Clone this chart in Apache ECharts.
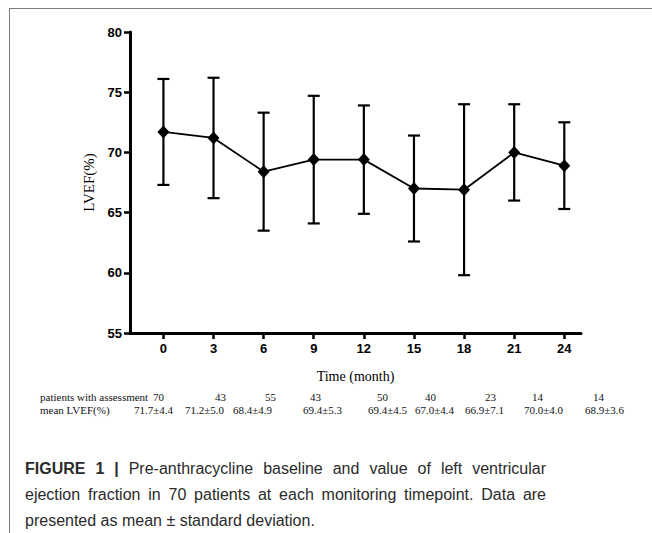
<!DOCTYPE html>
<html>
<head>
<meta charset="utf-8">
<script src="https://cdn.jsdelivr.net/npm/echarts@6/dist/echarts.min.js"></script>
<style>
html,body{margin:0;padding:0;background:#fff;}
#chart{width:652px;height:533px;}
</style>
</head>
<body>
<div id="chart"></div>
<script>
var months = [0, 3, 6, 9, 12, 15, 18, 21, 24];
var meanLVEF = [71.7, 71.2, 68.4, 69.4, 69.4, 67.0, 66.9, 70.0, 68.9];
var sdLVEF = [4.4, 5.0, 4.9, 5.3, 4.5, 4.4, 7.1, 4.0, 3.6];
var patientCounts = [70, 43, 55, 43, 50, 40, 23, 14, 14];
var meanLabels = ['71.7±4.4', '71.2±5.0', '68.4±4.9', '69.4±5.3', '69.4±4.5', '67.0±4.4', '66.9±7.1', '70.0±4.0', '68.9±3.6'];
var yTicks = [55, 60, 65, 70, 75, 80];
var captionLines = [
  'Pre-anthracycline baseline and value of left ventricular',
  'ejection fraction in 70 patients at each monitoring timepoint. Data are',
  'presented as mean ± standard deviation.'
];
var captionLead = 'FIGURE 1 |';

var countLeft = [153, 215, 265, 310, 377, 425, 485, 532, 593];
var meanLeft = [134, 185, 233, 303, 368, 415, 465, 524, 585];

var lineData = months.map(function (m, i) { return [m, meanLVEF[i]]; });
var errData = months.map(function (m, i) { return [m, meanLVEF[i] - sdLVEF[i], meanLVEF[i] + sdLVEF[i]]; });

var chart = echarts.init(document.getElementById('chart'), null, {renderer: 'svg'});

var serif = '11px "Liberation Serif", "Times New Roman", serif';
var graphics = [
  {type: 'line', shape: {x1: 9, y1: 8.5, x2: 652, y2: 8.5}, style: {stroke: '#7a7a7a', lineWidth: 1}},
  {type: 'line', shape: {x1: 9.5, y1: 8, x2: 9.5, y2: 533}, style: {stroke: '#7a7a7a', lineWidth: 1}},
  {type: 'text', x: 40, y: 397, style: {text: 'patients with assessment', font: serif, fill: '#111', verticalAlign: 'middle'}},
  {type: 'text', x: 40, y: 410, style: {text: 'mean LVEF(%)', font: serif, fill: '#111', verticalAlign: 'middle'}}
];
patientCounts.forEach(function (c, i) {
  graphics.push({type: 'text', x: countLeft[i], y: 397, style: {text: String(c), font: serif, fill: '#111', verticalAlign: 'middle'}});
});
meanLabels.forEach(function (t, i) {
  graphics.push({type: 'text', x: meanLeft[i], y: 410, style: {text: t, font: serif, fill: '#111', verticalAlign: 'middle'}});
});

// Caption, justified lines 1-2 (word placement computed from measured word widths)
var capFont = '16px "Liberation Sans", Arial, sans-serif';
var capBold = 'bold 16px "Liberation Sans", Arial, sans-serif';
var capColor = '#2b2b2b';
var ctx = document.createElement('canvas').getContext('2d');
function measure(t, f) { ctx.font = f; return ctx.measureText(t).width; }
var capLeft = 25, capRight = 546, capY = [468, 494, 520];
function justifyLine(words, y) {
  var total = 0;
  words.forEach(function (w) { total += measure(w.t, w.f); });
  var gap = (capRight - capLeft - total) / (words.length - 1);
  var x = capLeft;
  words.forEach(function (w) {
    graphics.push({type: 'text', x: x, y: y, style: {text: w.t, font: w.f, fill: capColor, verticalAlign: 'middle'}});
    x += measure(w.t, w.f) + gap;
  });
}
var l1 = captionLead.split(' ').map(function (t) { return {t: t, f: capBold}; })
  .concat(captionLines[0].split(' ').map(function (t) { return {t: t, f: capFont}; }));
justifyLine(l1, capY[0]);
justifyLine(captionLines[1].split(' ').map(function (t) { return {t: t, f: capFont}; }), capY[1]);
graphics.push({type: 'text', x: capLeft, y: capY[2], style: {text: captionLines[2], font: capFont, fill: capColor, verticalAlign: 'middle'}});

chart.setOption({
  animation: false,
  backgroundColor: '#fff',
  grid: {left: 130, right: 71, top: 32, bottom: 200, containLabel: false},
  xAxis: {
    type: 'value', min: -2, max: 25,
    name: 'Time (month)', nameLocation: 'middle', nameGap: 36,
    nameTextStyle: {fontFamily: '"Liberation Serif", "Times New Roman", serif', fontSize: 14, color: '#000'},
    axisLine: {show: true, onZero: false, lineStyle: {color: '#000', width: 3}},
    axisTick: {show: true, inside: false, length: 6, customValues: months, lineStyle: {color: '#000', width: 2.5}},
    axisLabel: {show: true, customValues: months, margin: 9, fontFamily: '"Liberation Sans", Arial, sans-serif', fontWeight: 'bold', fontSize: 13, color: '#000'},
    splitLine: {show: false}
  },
  yAxis: {
    type: 'value', min: yTicks[0], max: yTicks[yTicks.length - 1], interval: 5,
    name: 'LVEF(%)', nameLocation: 'middle', nameGap: 32,
    nameTextStyle: {fontFamily: '"Liberation Serif", "Times New Roman", serif', fontSize: 15, color: '#000'},
    axisLine: {show: true, onZero: false, lineStyle: {color: '#000', width: 3}},
    axisTick: {show: true, inside: false, length: 6, lineStyle: {color: '#000', width: 2.5}},
    axisLabel: {show: true, margin: 8, fontFamily: '"Liberation Sans", Arial, sans-serif', fontWeight: 'bold', fontSize: 13, color: '#000'},
    splitLine: {show: false}
  },
  series: [
    {
      type: 'custom',
      data: errData,
      z: 1,
      renderItem: function (params, api) {
        var x = api.value(0);
        var lo = api.coord([x, api.value(1)]);
        var hi = api.coord([x, api.value(2)]);
        var hw = 6;
        var st = {stroke: '#000', lineWidth: 2.2, fill: null};
        return {type: 'group', children: [
          {type: 'line', shape: {x1: lo[0], y1: lo[1], x2: hi[0], y2: hi[1]}, style: st},
          {type: 'line', shape: {x1: lo[0] - hw, y1: lo[1], x2: lo[0] + hw, y2: lo[1]}, style: st},
          {type: 'line', shape: {x1: hi[0] - hw, y1: hi[1], x2: hi[0] + hw, y2: hi[1]}, style: st}
        ]};
      }
    },
    {
      type: 'line',
      data: lineData,
      z: 3,
      symbol: 'diamond',
      symbolSize: [12, 13],
      itemStyle: {color: '#000'},
      lineStyle: {color: '#000', width: 1.8}
    }
  ],
  graphic: graphics
});
</script>
</body>
</html>
